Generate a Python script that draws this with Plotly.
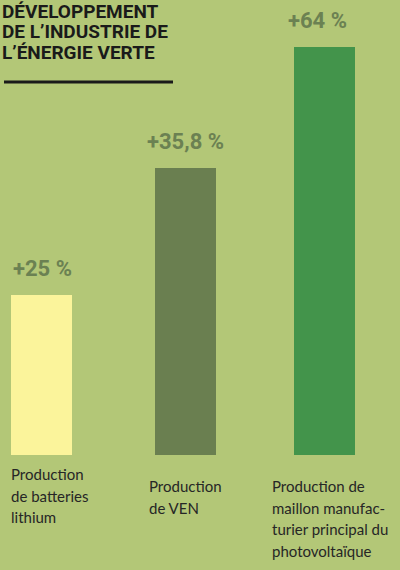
import plotly.graph_objects as go

categories = ["Production<br>de batteries<br>lithium", "Production<br>de VEN",
              "Production de<br>maillon manufac-<br>turier principal du<br>photovoltaïque"]
growth_labels = ["+25 %", "+35,8 %", "+64 %"]
growth_values = [25, 35.8, 64]
# bar heights as drawn in the reference (the middle bar is drawn taller than its value)
bar_heights = [25, 44.8, 63.8]
bar_colors = ["#fbf49b", "#6a7f50", "#43944b"]
title_lines = ["DÉVELOPPEMENT", "DE L’INDUSTRIE DE", "L’ÉNERGIE VERTE"]

BG = "#b3c777"
x_idx = list(range(len(categories)))
PX = 141.5  # pixels per category step

fig = go.Figure()
fig.add_trace(go.Bar(
    x=x_idx, y=bar_heights, marker=dict(color=bar_colors, line=dict(width=0)),
    width=61 / PX, offset=[-30.5 / PX, -28.5 / PX, -30.5 / PX],
    hoverinfo="skip", showlegend=False,
))

# value labels above bars
label_xshift = [1, 2, -7]
for i, lab in enumerate(growth_labels):
    fig.add_annotation(x=i, y=bar_heights[i], text=f"<b>{lab}</b>", showarrow=False,
                       xanchor="center", yanchor="bottom", yshift=12, xshift=label_xshift[i],
                       font=dict(family="Roboto", size=22, color="#6b8152"))

# category labels below bars (left aligned, one annotation per line)
label_left_px = [10, 148, 271]
label_top_px = [464, 476, 476]
LINE = 21.7
for i, cat in enumerate(categories):
    for j, line in enumerate(cat.split("<br>")):
        fig.add_annotation(x=label_left_px[i] / 400, xref="paper",
                           y=1 - (label_top_px[i] + j * LINE) / 570, yref="paper",
                           text=line, showarrow=False, xanchor="left", yanchor="top",
                           align="left", borderpad=0,
                           font=dict(family="Lato", size=15, color="#262626"))

# title, one line at a time
for j, line in enumerate(title_lines):
    fig.add_annotation(x=1 / 400, xref="paper", y=1 - (-1 + j * 20.3) / 570, yref="paper",
                       text=f"<b>{line}</b>", showarrow=False, xanchor="left", yanchor="top",
                       align="left", borderpad=0,
                       font=dict(family="Roboto", size=19, color="#1a1a1a"))
fig.add_shape(type="line", xref="paper", yref="paper",
              x0=4 / 400, x1=173 / 400, y0=1 - 82 / 570, y1=1 - 82 / 570,
              line=dict(color="#1a1a1a", width=3))

fig.update_layout(
    width=400, height=570,
    margin=dict(l=0, r=0, t=0, b=0),
    paper_bgcolor=BG, plot_bgcolor=BG,
    xaxis=dict(range=[-41.5 / PX, 2 + 75.5 / PX], visible=False, fixedrange=True),
    yaxis=dict(range=[-115 / 6.4, 455 / 6.4], visible=False, fixedrange=True),
    bargap=0,
)

fig.write_html("out.html", config={"displayModeBar": False},
               post_script="document.body.style.margin='0';document.body.style.background='" + BG + "';")
